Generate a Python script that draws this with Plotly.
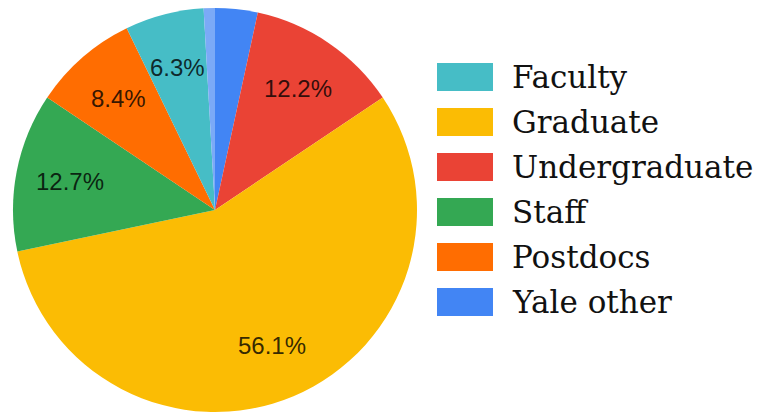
import math
import plotly.graph_objects as go

# Data (clockwise from 12 o'clock)
categories = ["Yale other", "Undergraduate", "Graduate", "Staff", "Postdocs", "Faculty", "Other"]
shares = [3.4, 12.2, 56.1, 12.7, 8.4, 6.3, 0.9]
colors = ["#4285F4", "#EA4335", "#FBBC04", "#34A853", "#FF6D01", "#46BDC6", "#7BAAF7"]

legend_order = ["Faculty", "Graduate", "Undergraduate", "Staff", "Postdocs", "Yale other"]

# The page body adds an 8px margin, so the figure is sized to the remaining area
OFF = 8
W, H = 766 - OFF, 415 - OFF
cx, cy, r = 215 - OFF, 210 - OFF, 202

fig = go.Figure()
fig.add_trace(go.Pie(
    labels=categories,
    values=shares,
    sort=False,
    direction="clockwise",
    rotation=0,
    marker=dict(colors=colors, line=dict(width=0)),
    textinfo="none",
    showlegend=False,
    domain=dict(x=[(cx - r) / W, (cx + r) / W], y=[(H - cy - r) / H, (H - cy + r) / H]),
    hoverinfo="label+percent",
))

annotations = []
# percentage labels at mid-angle of each slice (slices >= 5%)
total = sum(shares)
cum = 0.0
for name, v in zip(categories, shares):
    mid = (cum + v / 2) / total * 2 * math.pi
    cum += v
    if v < 5:
        continue
    rr = 0.73 * r
    px = cx + rr * math.sin(mid)
    py = cy - rr * math.cos(mid)
    annotations.append(dict(xref="paper", yref="paper", x=px / W, y=(H - py) / H,
                            xanchor="center", yanchor="middle", showarrow=False,
                            text=f"{v / total * 100:.1f}%",
                            font=dict(family="Liberation Sans, Arial, sans-serif", size=24,
                                      color="rgba(0,0,0,0.8)")))

shapes = []
y0, step = 77 - OFF, 45
for i, name in enumerate(legend_order):
    col = colors[categories.index(name)]
    yc = y0 + i * step
    shapes.append(dict(type="rect", xref="paper", yref="paper",
                       x0=(437 - OFF) / W, x1=(493 - OFF) / W,
                       y0=(H - yc - 14) / H, y1=(H - yc + 14) / H,
                       fillcolor=col, line=dict(width=0)))
    annotations.append(dict(xref="paper", yref="paper", x=(510 - OFF) / W, y=(H - yc) / H,
                            xanchor="left", yanchor="middle", showarrow=False,
                            text=name,
                            font=dict(family="DejaVu Serif", size=31, color="#111")))

fig.update_layout(
    width=W, height=H,
    margin=dict(l=0, r=0, t=0, b=0),
    paper_bgcolor="white", plot_bgcolor="white",
    shapes=shapes, annotations=annotations,
)
fig.write_html("out.html")
